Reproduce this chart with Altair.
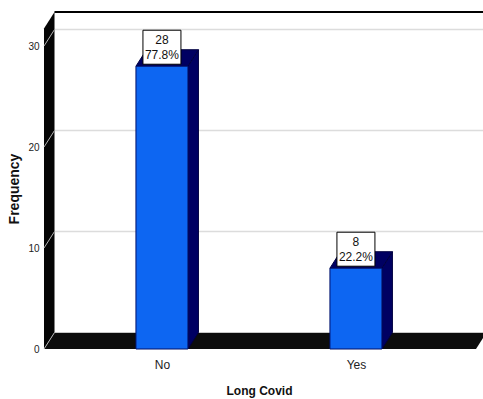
import altair as alt
import pandas as pd

# ---- data ----
categories = ["No", "Yes"]
counts = [28, 8]
y_ticks = [0, 10, 20, 30]
x_title = "Long Covid"
y_title = "Frequency"

total = sum(counts)
percents = [f"{c / total * 100:.1f}%" for c in counts]

# ---- layout / style constants ----
W, H = 439, 337
X_MIN, X_MAX = -0.608, 1.655
Y_MAX = 33.37
PX_X = W / (X_MAX - X_MIN)
PX_Y = H / Y_MAX
DX = 10.5 / PX_X          # 3-D depth (x, data units)
DY = 16.5 / PX_Y          # 3-D depth (y, data units)
HALF = 26 / PX_X          # half bar width
FLOOR_END = X_MAX - 7 / PX_X

FONT = "Liberation Sans, Arial, sans-serif"
NARROW = "Liberation Sans Narrow, Liberation Sans, Arial, sans-serif"
BLUE = "#0d66f2"
NAVY = "#000062"

xs = alt.Scale(domain=[X_MIN, X_MAX], nice=False, zero=False)
ys = alt.Scale(domain=[0, Y_MAX], nice=False, zero=False)

label_expr = " : ".join(
    [f"datum.value == {i} ? '{c}'" for i, c in enumerate(categories)] + ["''"]
)
x_axis = alt.Axis(
    values=list(range(len(categories))), labelExpr=label_expr, domain=False,
    ticks=False, grid=False, labelFont=FONT, labelFontSize=12,
    labelColor="#222222", labelPadding=10, title=x_title, titleFont=FONT,
    titleFontSize=12, titleFontWeight="bold", titleColor="#111111",
    titlePadding=15, titleX=215,
)
y_axis = alt.Axis(
    values=y_ticks, domain=False, ticks=False, grid=False, labelFont=NARROW,
    labelFontSize=10, labelColor="#222222", labelPadding=5, title=y_title,
    titleFont=FONT, titleFontSize=14, titleFontWeight="bold",
    titleColor="#111111", titleX=-30, titleY=H / 2 + 8, titleAngle=-90,
    titleAlign="center", titleBaseline="middle",
)


def X(field):
    return alt.X(field, type="quantitative", scale=xs, axis=x_axis)


def Y(field):
    return alt.Y(field, type="quantitative", scale=ys, axis=y_axis)


# ---- tables built from the arrays ----
bars = pd.DataFrame({"cat": categories, "pos": list(range(len(categories))),
                     "count": counts, "pct": percents})
bars["x1"] = bars["pos"] - HALF
bars["x2"] = bars["pos"] + HALF
bars["base"] = 0.0

side_rows, top_rows = [], []
for p, c, n in zip(bars["pos"], categories, counts):
    side_rows.append({"cat": c, "x": p + HALF, "y": 0.0, "y2": n})
    side_rows.append({"cat": c, "x": p + HALF + DX, "y": DY, "y2": n + DY})
    top_rows.append({"cat": c, "y": n, "x": p - HALF, "x2": p + HALF})
    top_rows.append({"cat": c, "y": n + DY, "x": p - HALF + DX, "x2": p + HALF + DX})
side = pd.DataFrame(side_rows)
top = pd.DataFrame(top_rows)

grid = pd.DataFrame({"v": [t for t in y_ticks if t > 0]})
grid["yb"] = grid["v"] + DY
grid["x"] = X_MIN + DX
grid["x2"] = X_MAX

slants = pd.DataFrame({"v": y_ticks})
slants["yb"] = slants["v"] + DY
slants["x"] = X_MIN
slants["x2"] = X_MIN + DX

wall = pd.DataFrame({"x": [X_MIN, X_MIN + DX], "y": [0.0, DY],
                     "y2": [Y_MAX - DY, Y_MAX]})
floor = pd.DataFrame({"y": [0.0, DY], "x": [X_MIN, X_MIN + DX],
                      "x2": [FLOOR_END, FLOOR_END + DX]})
floor_line = pd.DataFrame({"y": [DY], "x": [X_MIN + DX], "x2": [X_MAX + DX]})
top_line = pd.DataFrame({"y": [Y_MAX], "x": [X_MIN + DX], "x2": [X_MAX]})

# ---- layers ----
grid_layer = alt.Chart(grid).mark_rule(color="#dcdcdc", strokeWidth=1.5).encode(
    x=X("x"), x2="x2", y=Y("yb"))

wall_layer = alt.Chart(wall).mark_area(orient="vertical", color="#050505").encode(
    x=X("x"), y=Y("y"), y2="y2")

floor_layer = alt.Chart(floor).mark_area(orient="horizontal", color="#0c0c0c").encode(
    y=Y("y"), x=X("x"), x2="x2")

floor_line_layer = alt.Chart(floor_line).mark_rule(color="#c8c8c8", strokeWidth=1.2).encode(
    x=X("x"), x2="x2", y=Y("y"))

slant_layer = alt.Chart(slants).mark_rule(color="#b4b4b4", strokeWidth=1).encode(
    x=X("x"), x2="x2", y=Y("v"), y2="yb")

top_line_layer = alt.Chart(top_line).mark_rule(color="#000000", strokeWidth=2).encode(
    x=X("x"), x2="x2", y=Y("y"))

side_layer = alt.Chart(side).mark_area(
    orient="vertical", color=NAVY, stroke="#000040", strokeWidth=1).encode(
    x=X("x"), y=Y("y"), y2="y2", detail="cat:N")

top_layer = alt.Chart(top).mark_area(
    orient="horizontal", color=NAVY, stroke="#000040", strokeWidth=1).encode(
    y=Y("y"), x=X("x"), x2="x2", detail="cat:N")

front_layer = alt.Chart(bars).mark_rect(
    color=BLUE, stroke="#00106a", strokeWidth=1).encode(
    x=X("x1"), x2="x2", y=Y("base"), y2="count")

box_layer = alt.Chart(bars).mark_rect(
    fill="white", stroke="#000000", strokeWidth=1,
    xOffset=-19, x2Offset=19, yOffset=-2, y2Offset=-36).encode(
    x=X("pos"), x2="pos", y=Y("count"), y2="count")

count_text = alt.Chart(bars).mark_text(
    font=FONT, fontSize=12, color="#111111", baseline="middle", dy=-26).encode(
    x=X("pos"), y=Y("count"), text="count:N")

pct_text = alt.Chart(bars).mark_text(
    font=FONT, fontSize=12, color="#111111", baseline="middle", dy=-11).encode(
    x=X("pos"), y=Y("count"), text="pct:N")

chart = alt.layer(
    grid_layer, wall_layer, floor_layer, floor_line_layer, slant_layer,
    top_line_layer, side_layer, top_layer, front_layer, box_layer,
    count_text, pct_text,
).properties(
    width=W, height=H,
    autosize=alt.AutoSizeParams(type="none"),
    padding={"left": 44, "top": 12, "right": 0, "bottom": 50},
    background="white",
).configure_view(stroke=None)

chart.save("out.html", embed_options={"renderer": "svg", "actions": False})
